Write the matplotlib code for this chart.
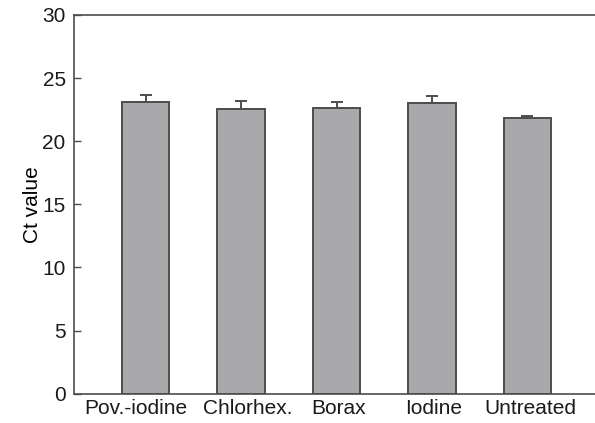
import matplotlib
matplotlib.use("Agg")
import matplotlib.pyplot as plt
from matplotlib.transforms import ScaledTranslation

# Mean Ct values and error for each treatment
treatments = ["Pov.-iodine", "Chlorhex.", "Borax", "Iodine", "Untreated"]
ct_mean = [23.1, 22.55, 22.6, 23.05, 21.8]
ct_err = [0.57, 0.6, 0.48, 0.5, 0.2]

plt.rcParams["font.family"] = ["Liberation Sans", "DejaVu Sans"]

fig = plt.figure(figsize=(5.95, 4.23), dpi=100)
ax = fig.add_axes([0.1244, 0.0693, 0.8823, 0.8953])

x = list(range(len(treatments)))
ax.bar(x, ct_mean, width=0.5, color="#a9a9ac", edgecolor="#4d4d4d",
       linewidth=1.4, zorder=2)
ax.errorbar(x, ct_mean, yerr=[[0] * len(ct_err), ct_err], fmt="none",
            ecolor="#4d4d4d", elinewidth=1.4, capsize=4.5, capthick=1.4,
            zorder=3)

ax.set_xlim(-0.75, 4.75)
ax.set_ylim(0, 30)
ax.set_yticks([0, 5, 10, 15, 20, 25, 30])
ax.set_xticks(x)
ax.set_xticklabels(treatments)
ax.set_ylabel("Ct value", fontsize=15, labelpad=0)

ax.tick_params(axis="both", direction="in", length=5, width=1,
               color="#4d4d4d", labelsize=15, colors="#1a1a1a")
ax.tick_params(axis="x", pad=4)
ax.tick_params(axis="y", pad=6)
for side in ("left", "top", "bottom"):
    ax.spines[side].set_color("#4d4d4d")
    ax.spines[side].set_linewidth(1.2)
ax.spines["right"].set_visible(False)

# Nudge the category labels sideways so neighbouring names keep a gap
label_shift_px = [-10, 7, 2, 2, 3]
for lab, dx in zip(ax.get_xticklabels(), label_shift_px):
    lab.set_transform(lab.get_transform()
                      + ScaledTranslation(dx / 100, 0, fig.dpi_scale_trans))

fig.savefig("out.png", dpi=100)
